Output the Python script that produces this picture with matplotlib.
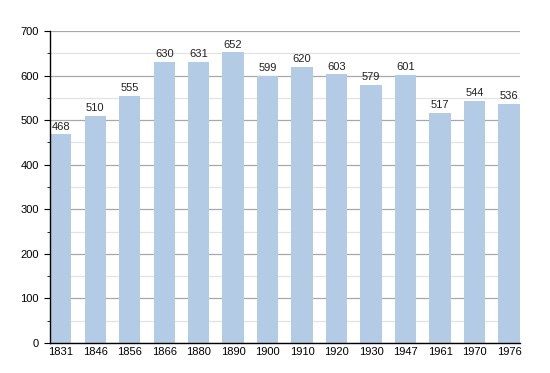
import numpy as np
import matplotlib.pyplot as plt
from matplotlib.ticker import MultipleLocator

plt.rcParams['font.family'] = ['Liberation Sans', 'DejaVu Sans']

years = ['1831', '1846', '1856', '1866', '1880', '1890', '1900',
         '1910', '1920', '1930', '1947', '1961', '1970', '1976']
pop = [468, 510, 555, 630, 631, 652, 599, 620, 603, 579, 601, 517, 544, 536]

x = np.arange(len(years))
w = 0.62

fig = plt.figure(figsize=(5.5, 3.73), dpi=100)
ax = fig.add_axes([0.091, 0.0804, 0.854, 0.8366])

ax.bar(x, pop, width=w, color='#b3cbe5', zorder=2)
for xi, v in zip(x, pop):
    ax.text(xi, v + 6, str(v), ha='center', va='bottom', fontsize=8, color='#222222')

ax.set_xlim(-w / 2, len(years) - 1 + w / 2)
ax.set_ylim(0, 700)
ax.yaxis.set_major_locator(MultipleLocator(100))
ax.yaxis.set_minor_locator(MultipleLocator(50))
ax.grid(axis='y', which='major', color='#a8a8a8', linewidth=0.9, zorder=0)
ax.grid(axis='y', which='minor', color='#e2e2e2', linewidth=0.9, zorder=0)
ax.set_xticks(x)
ax.set_xticklabels(years)
ax.tick_params(axis='x', length=0, labelsize=8, pad=3)
ax.tick_params(axis='y', which='major', length=4, labelsize=8, pad=4)
ax.tick_params(axis='y', which='minor', length=2)
ax.spines['top'].set_visible(False)
ax.spines['right'].set_visible(False)
ax.spines['left'].set_linewidth(1)
ax.spines['bottom'].set_linewidth(1)

fig.savefig('out.png', dpi=100)
